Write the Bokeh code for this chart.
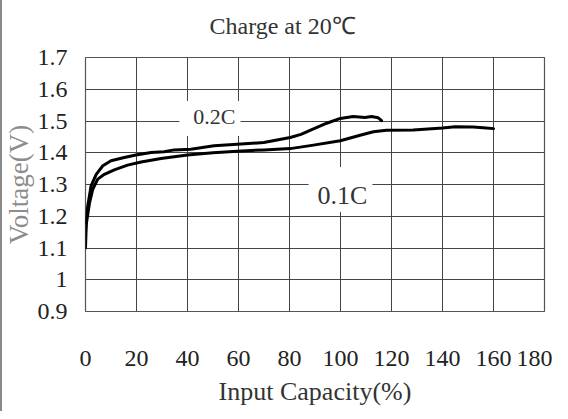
from bokeh.plotting import figure
from bokeh.models import Range1d, FixedTicker, Label
from bokeh.embed import file_html
from bokeh.resources import INLINE

# ---- data ----
cap_02 = [0, 0.4, 0.9, 2.2, 4.2, 6.8, 10.0, 15.2, 19.8, 25.7, 30.8, 34.8, 41.3,
          50.4, 59.5, 69.9, 80.3, 84.5, 88.5, 94.6, 99.9, 105.0, 109.6, 112.2, 114.8, 116.1]
v_02 = [1.18, 1.20, 1.233, 1.296, 1.332, 1.359, 1.375, 1.385, 1.393, 1.401, 1.403, 1.409, 1.411,
        1.422, 1.427, 1.432, 1.448, 1.458, 1.472, 1.493, 1.508, 1.514, 1.511, 1.514, 1.510, 1.501]

cap_01 = [0, 0.2, 0.4, 1.6, 2.85, 4.8, 7.4, 11.3, 16.5, 21.8, 29.6, 40.0, 50.0, 59.5, 70.0,
          80.3, 89.4, 99.9, 107.7, 112.9, 118.0, 128.5, 140.0, 145.0, 152.0, 156.0, 160.0]
v_01 = [1.10, 1.15, 1.18, 1.243, 1.285, 1.317, 1.332, 1.346, 1.361, 1.371, 1.382, 1.393, 1.400,
        1.405, 1.409, 1.413, 1.424, 1.438, 1.455, 1.466, 1.471, 1.472, 1.478, 1.482, 1.481, 1.479, 1.476]

x_ticks = [0, 20, 40, 60, 80, 100, 120, 140, 160, 180]
y_ticks = [0.9, 1.0, 1.1, 1.2, 1.3, 1.4, 1.5, 1.6, 1.7]
y_tick_labels = ["0.9", "1", "1.1", "1.2", "1.3", "1.4", "1.5", "1.6", "1.7"]

series_names = ["0.2C", "0.1C"]

FONT = "Liberation Serif"

SHIFT = 16  # figure is pulled up by this much so the title can sit higher

p = figure(width=552, height=411 + SHIFT, output_backend="svg", toolbar_location=None,
           x_range=Range1d(0, 180), y_range=Range1d(0.9, 1.7),
           min_border_left=83, min_border_right=8, min_border_top=57 + SHIFT,
           min_border_bottom=100)

p.border_fill_color = None
p.background_fill_color = "white"
p.outline_line_color = "#555555"
p.outline_line_width = 1.2
# page frame (left/top edges) drawn with inset shadows; margins keep the page inside the window
p.styles = {
    "box-shadow": f"inset 0 {SHIFT - 2}px 0 white, inset 0 {SHIFT}px 0 #8a8a8a, inset 2px 0 0 #8a8a8a",
    "margin-top": f"-{SHIFT}px",
    "margin-bottom": "-8px",
}

# title
p.title.text = "Charge at 20\u2103"
p.title.text_font = FONT
p.title.text_font_size = "24px"
p.title.text_font_style = "normal"
p.title.text_color = "#333333"
p.title.align = "left"
p.title.offset = 124
p.title.standoff = 38

# axes
for ax in (p.xaxis[0], p.yaxis[0]):
    ax.axis_line_color = None
    ax.major_tick_line_color = None
    ax.minor_tick_line_color = None
    ax.major_tick_out = 0
    ax.major_tick_in = 0
    ax.major_label_text_font = FONT
    ax.major_label_text_color = "#222222"
    ax.axis_label_text_font = FONT
    ax.axis_label_text_font_style = "normal"

p.xaxis.ticker = FixedTicker(ticks=x_ticks)
p.yaxis.ticker = FixedTicker(ticks=y_ticks)
p.yaxis.major_label_overrides = {t: l for t, l in zip(y_ticks, y_tick_labels)}
p.xaxis.major_label_text_font_size = "24px"
p.yaxis.major_label_text_font_size = "24px"
p.xaxis.major_label_standoff = 39
p.yaxis.major_label_standoff = 18

p.xaxis.axis_label = "Input Capacity(%)"
p.xaxis.axis_label_text_font_size = "26px"
p.xaxis.axis_label_text_color = "#333333"
p.xaxis.axis_label_standoff = 8

p.yaxis.axis_label = "Voltage(V)"
p.yaxis.axis_label_text_font_size = "27px"
p.yaxis.axis_label_text_color = "#8c8c8c"
p.yaxis.axis_label_standoff = 1

p.xgrid.ticker = FixedTicker(ticks=x_ticks)
p.ygrid.ticker = FixedTicker(ticks=y_ticks)
p.grid.grid_line_color = "#444444"
p.grid.grid_line_width = 1

# curves
p.line(cap_02, v_02, line_color="black", line_width=3, line_join="round", line_cap="round")
p.line(cap_01, v_01, line_color="black", line_width=3, line_join="round", line_cap="round")

# labels with white boxes covering the grid
lab1 = Label(x=48.8, y=1.508, text=series_names[0], text_font=FONT, text_font_size="22px",
             text_color="#333333", text_align="center", text_baseline="middle",
             background_fill_color="white", padding=(14, 5, 3, 7))
lab2 = Label(x=100, y=1.284, text=series_names[1], text_font=FONT, text_font_size="26px",
             text_color="#333333", text_align="center", text_baseline="middle",
             background_fill_color="white", padding=(9, 5, 14, 2))
p.add_layout(lab1)
p.add_layout(lab2)

open("out.html", "w").write(file_html(p, INLINE))
